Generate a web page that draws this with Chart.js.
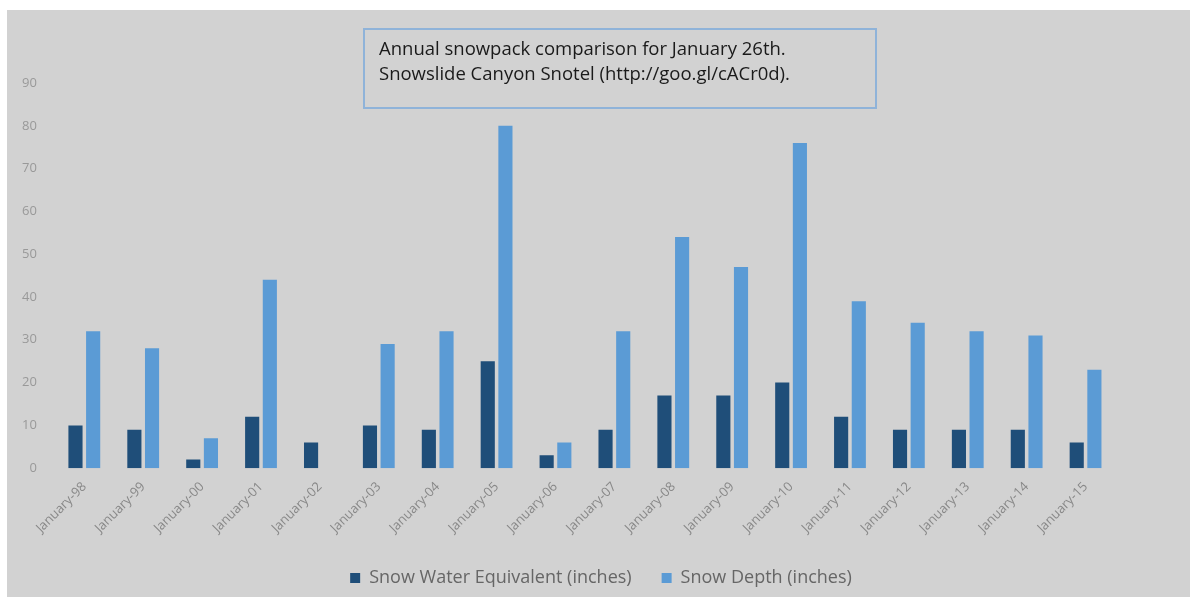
<!DOCTYPE html>
<html lang="en">
<head>
  <meta charset="UTF-8" />
  <title>Annual snowpack comparison</title>
  <script src="https://cdn.jsdelivr.net/npm/chart.js"></script>
  <style>
    body {
      margin: 0;
      background-color: #ffffff;
      font-family: "Open Sans", sans-serif;
    }
    .frame {
      position: absolute;
      left: 7px;
      top: 10px;
      width: 1183px;
      height: 587px;
      background-color: #d2d2d2;
    }
    .note {
      position: absolute;
      left: 356px;
      top: 18px;
      width: 496px;
      height: 72px;
      border: 2px solid #8fb3d9;
      padding: 5px 0 0 14px;
      font-size: 18.5px;
      line-height: 25px;
      color: #1a1a1a;
    }
  </style>
</head>
<body>

  <div class="frame">
    <canvas id="snowChart" width="1183" height="587"></canvas>
    <div class="note">Annual snowpack comparison for January 26th.<br>Snowslide Canyon Snotel (http://goo.gl/cACr0d).</div>
  </div>

  <script>
    // data
    const years = ['January-98', 'January-99', 'January-00', 'January-01', 'January-02', 'January-03',
      'January-04', 'January-05', 'January-06', 'January-07', 'January-08', 'January-09',
      'January-10', 'January-11', 'January-12', 'January-13', 'January-14', 'January-15'];
    const waterEquivalent = [10, 9, 2, 12, 6, 10, 9, 25, 3, 9, 17, 17, 20, 12, 9, 9, 9, 6];
    const snowDepth = [32, 28, 7, 44, 0, 29, 32, 80, 6, 32, 54, 47, 76, 39, 34, 32, 31, 23];

    const ctx = document.getElementById('snowChart').getContext('2d');
    new Chart(ctx, {
      type: 'bar',
      data: {
        labels: years,
        datasets: [{
          label: 'Snow Water Equivalent (inches)',
          data: waterEquivalent,
          backgroundColor: '#1f4e79'
        }, {
          label: 'Snow Depth (inches)',
          data: snowDepth,
          backgroundColor: '#5b9bd5'
        }]
      },
      options: {
        responsive: false,
        animation: false,
        categoryPercentage: 0.6,
        barPercentage: 0.8,
        layout: {
          padding: { top: 73, right: 0, left: 5, bottom: 0 }
        },
        plugins: {
          tooltip: { enabled: false },
          legend: {
            position: 'bottom',
            labels: {
              boxWidth: 10,
              boxHeight: 10,
              color: '#666',
              padding: 30,
              font: { family: 'Open Sans', size: 18 }
            }
          }
        },
        scales: {
          x: {
            grid: { display: false },
            border: { display: false },
            ticks: {
              color: '#888',
              minRotation: 45,
              maxRotation: 45,
              font: { family: 'Open Sans', size: 13 }
            }
          },
          y: {
            min: 0,
            max: 90,
            grid: { display: false },
            border: { display: false },
            ticks: {
              stepSize: 10,
              color: '#999',
              padding: 10,
              font: { family: 'Open Sans', size: 13 }
            }
          },
          // empty right-hand axis that only keeps the space on the right
          spare: {
            position: 'right',
            grid: { display: false },
            border: { display: false },
            ticks: { display: false },
            afterFit: (axis) => { axis.width = 75; }
          }
        }
      }
    });
  </script>

</body>
</html>
